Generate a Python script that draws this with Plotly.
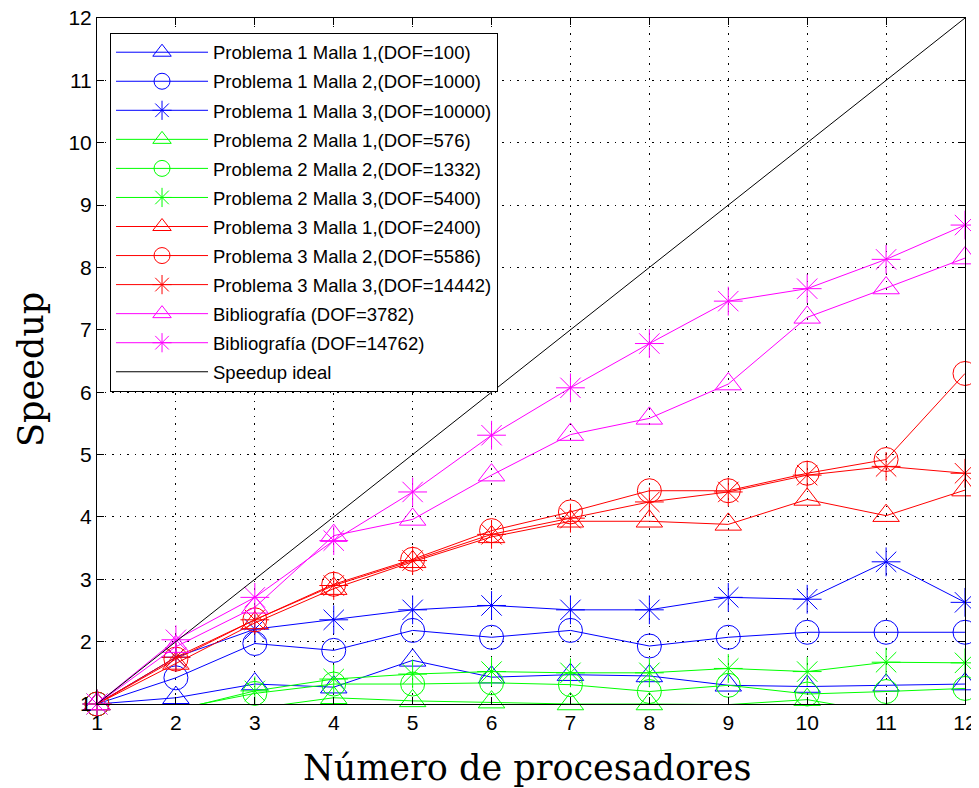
import plotly.graph_objects as go

# procesadores
procs = [1, 2, 3, 4, 5, 6, 7, 8, 9, 10, 11, 12]

# Problema 1
p1_m1 = [1, 1.10, 1.32, 1.27, 1.70, 1.43, 1.47, 1.45, 1.30, 1.28, 1.30, 1.32]
p1_m2 = [1, 1.42, 1.97, 1.86, 2.18, 2.07, 2.18, 1.93, 2.07, 2.15, 2.15, 2.15]
p1_m3 = [1, 1.75, 2.20, 2.35, 2.51, 2.58, 2.51, 2.51, 2.71, 2.68, 3.28, 2.63]

# Problema 2
p2_m1 = [1, 0.80, 0.93, 1.10, 1.05, 1.03, 1.00, 1.00, 0.99, 1.07, 0.85, 0.85]
p2_m2 = [1, 0.92, 1.17, 1.32, 1.32, 1.34, 1.31, 1.20, 1.30, 1.16, 1.20, 1.25]
p2_m3 = [1, 0.90, 1.21, 1.40, 1.48, 1.52, 1.50, 1.50, 1.57, 1.52, 1.67, 1.66]

# Problema 3
p3_m1 = [1, 1.65, 2.30, 2.85, 3.28, 3.68, 3.93, 3.93, 3.88, 4.28, 4.02, 4.43]
p3_m2 = [1, 1.72, 2.35, 2.92, 3.32, 3.78, 4.08, 4.42, 4.42, 4.70, 4.92, 6.30]
p3_m3 = [1, 1.75, 2.35, 2.90, 3.30, 3.72, 3.98, 4.24, 4.40, 4.67, 4.81, 4.70]

# Bibliografia
bib_3782 = [1, 1.92, 2.55, 3.70, 3.96, 4.67, 5.32, 5.58, 6.13, 7.20, 7.67, 8.15]
bib_14762 = [1, 2.03, 2.71, 3.62, 4.40, 5.31, 6.07, 6.78, 7.46, 7.66, 8.13, 8.68]

series = [
    ("Problema 1 Malla 1,(DOF=100)", p1_m1, "blue", "triangle-up-open"),
    ("Problema 1 Malla 2,(DOF=1000)", p1_m2, "blue", "circle-open"),
    ("Problema 1 Malla 3,(DOF=10000)", p1_m3, "blue", "asterisk-open"),
    ("Problema 2 Malla 1,(DOF=576)", p2_m1, "#00ff00", "triangle-up-open"),
    ("Problema 2 Malla 2,(DOF=1332)", p2_m2, "#00ff00", "circle-open"),
    ("Problema 2 Malla 3,(DOF=5400)", p2_m3, "#00ff00", "asterisk-open"),
    ("Problema 3 Malla 1,(DOF=2400)", p3_m1, "red", "triangle-up-open"),
    ("Problema 3 Malla 2,(DOF=5586)", p3_m2, "red", "circle-open"),
    ("Problema 3 Malla 3,(DOF=14442)", p3_m3, "red", "asterisk-open"),
    ("Bibliografía (DOF=3782)", bib_3782, "magenta", "triangle-up-open"),
    ("Bibliografía (DOF=14762)", bib_14762, "magenta", "asterisk-open"),
]
sizes = {"triangle-up-open": 23, "circle-open": 24, "asterisk-open": 24}

fig = go.Figure()
for i, (name, y, color, symbol) in enumerate(series):
    fig.add_trace(go.Scatter(
        x=procs, y=y, name=name, mode="lines+markers", legendgroup=str(i),
        line=dict(color=color, width=1), cliponaxis=False,
        marker=dict(symbol=symbol, size=sizes[symbol], color=color,
                    line=dict(color=color, width=1)),
    ))

fig.add_trace(go.Scatter(
    x=procs, y=procs, name="Speedup ideal", mode="lines", legendgroup="ideal",
    line=dict(color="black", width=1),
))

axis_style = dict(
    range=[1, 12], dtick=1, showline=True, linecolor="black", linewidth=1,
    mirror="ticks", ticks="inside", ticklen=7, tickcolor="black",
    showgrid=True, gridcolor="black", gridwidth=1, griddash="1.5px,6px",
    zeroline=False, tickfont=dict(family="Liberation Sans", size=21, color="black"),
    ticklabeloverflow="allow", automargin=False,
)
title_font = dict(family="DejaVu Serif", size=35, color="black")

# the page body has an 8px margin, so the figure sits 8px in from the window
fig.update_layout(
    template="none",
    width=979, height=780,
    margin=dict(l=89, r=22, t=10, b=84),
    paper_bgcolor="white", plot_bgcolor="white",
    xaxis=axis_style,
    yaxis=axis_style,
    legend=dict(
        x=0.015, y=0.9786, xanchor="left", yanchor="top",
        bgcolor="white", bordercolor="black", borderwidth=1,
        font=dict(family="Liberation Sans", size=18.5, color="black"),
        traceorder="grouped", tracegroupgap=2, itemwidth=92,
    ),
    showlegend=True,
    annotations=[
        dict(text="Número de procesadores", xref="paper", yref="paper",
             x=0.4954, y=0, yshift=-64, xanchor="center", yanchor="middle",
             showarrow=False, font=title_font),
        dict(text="Speedup", xref="paper", yref="paper", textangle=-90,
             x=0, xshift=-66, y=0.487, xanchor="center", yanchor="middle",
             showarrow=False, font=title_font),
    ],
)

fig.write_html("out.html")
